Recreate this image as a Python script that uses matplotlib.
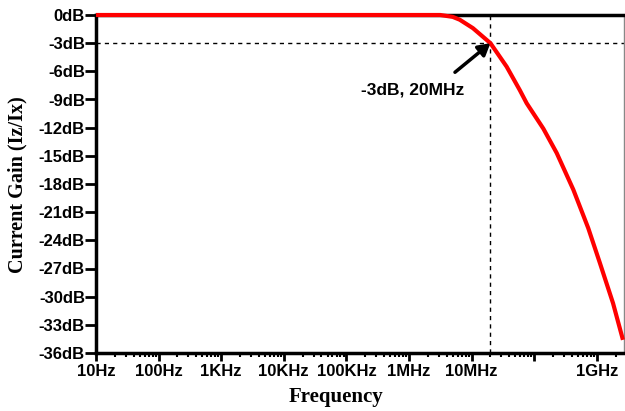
import matplotlib
matplotlib.use("Agg")
import matplotlib.pyplot as plt
from matplotlib.ticker import FixedLocator, LogLocator, NullFormatter

# Data
freq_hz = [10, 3.16e6, 5.0e6, 6.46e6, 1.05e7, 2.0e7, 3.63e7, 5.89e7, 7.59e7,
           1.40e8, 2.29e8, 4.22e8, 7.31e8, 1.12e9, 1.82e9, 2.62e9]
gain_db = [0, 0, -0.2, -0.5, -1.4, -3.0, -5.5, -8.0, -9.4,
           -12.1, -14.7, -18.6, -22.7, -26.4, -30.7, -34.6]
xtick_vals = [10, 100, 1e3, 1e4, 1e5, 1e6, 1e7, 1e8, 1e9]
xtick_labels = ["10Hz", "100Hz", "1KHz", "10KHz", "100KHz", "1MHz", "10MHz", "", "1GHz"]
ytick_vals = [0, -3, -6, -9, -12, -15, -18, -21, -24, -27, -30, -33, -36]
ytick_labels = [f"{v}dB" for v in ytick_vals]
marker_f, marker_db = 2.0e7, -3.0
annot_text = "-3dB, 20MHz"

fig = plt.figure(figsize=(6.25, 4.11), dpi=100)
ax = fig.add_axes([96/625, 1-353/411, (624-96)/625, (353-15)/411])

ax.set_xscale("log")
ax.set_xlim(10, 10**9.435)
ax.set_ylim(-36, 0)

# dashed guide lines
ax.axhline(marker_db, color="black", lw=1, ls=(0, (3, 3)), zorder=1)
ax.axvline(marker_f, color="black", lw=1, ls=(0, (3, 3)), zorder=1)

ax.plot(freq_hz, gain_db, color="#ff0000", lw=3, zorder=5, clip_on=False,
        solid_capstyle="butt")

# spines
for s in ["left", "bottom", "top"]:
    ax.spines[s].set_linewidth(2.5)
    ax.spines[s].set_color("black")
ax.spines["right"].set_linewidth(1)
ax.spines["right"].set_color("#888888")

ax.xaxis.set_major_locator(FixedLocator(xtick_vals))
ax.set_xticklabels(xtick_labels)
ax.xaxis.set_minor_locator(LogLocator(base=10, subs=range(2, 10), numticks=100))
ax.xaxis.set_minor_formatter(NullFormatter())
ax.set_yticks(ytick_vals)
ax.set_yticklabels(ytick_labels)

ax.tick_params(axis="x", which="major", direction="out", length=6, width=2, pad=2,
               top=False)
ax.tick_params(axis="x", which="minor", direction="out", length=3, width=1.5, top=False)
ax.tick_params(axis="y", which="major", direction="out", length=8, width=2, pad=0,
               right=False)
for lab in ax.get_xticklabels() + ax.get_yticklabels():
    lab.set_fontfamily("Liberation Sans")
    lab.set_fontweight("bold")
    lab.set_fontsize(12)

ax.set_xlabel("Frequency", family="Liberation Serif", fontweight="bold",
              fontsize=15, va="center")
ax.xaxis.set_label_coords(0.4545, -0.130)
ax.set_ylabel("Current Gain (Iz/Ix)", family="Liberation Serif", fontweight="bold",
              fontsize=14.5, va="center")
ax.yaxis.set_label_coords(-0.148, 0.497)

ax.annotate("", xy=(marker_f, marker_db), xytext=(5.43e6, -6.1),
            arrowprops=dict(arrowstyle="-|>,head_length=0.7,head_width=0.4",
                            lw=2.5, color="black", shrinkA=0, shrinkB=0),
            zorder=6)
ax.text(1.16e6, -8.0, annot_text, family="Liberation Sans", fontweight="bold",
        fontsize=12.5, ha="center", va="center")

fig.savefig("out.png", dpi=100)
